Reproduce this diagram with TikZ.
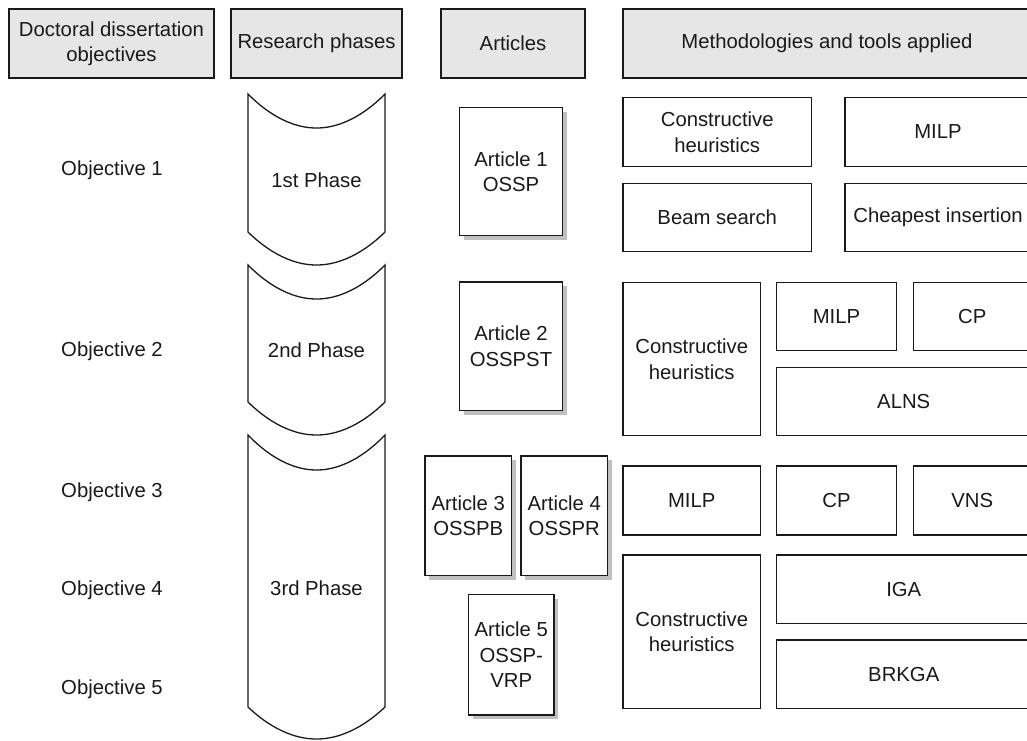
\documentclass[tikz,border=0pt]{standalone}
\usepackage{fontspec}
\setmainfont{Liberation Sans}
\usetikzlibrary{shadows}
\definecolor{hdr}{RGB}{230,230,230}
\definecolor{ink}{RGB}{26,26,26}
\definecolor{shd}{RGB}{192,192,192}
\newcommand\rbox[7]{\node[#1, minimum width={(#5-#3)*1pt}, minimum height={(#6-#4)*1pt}] (#2) at ({(#3+#5)/2},{(#4+#6)/2}) {#7};}
\begin{document}
\begin{tikzpicture}[x=1pt,y=-1pt,
  every node/.style={font=\fontsize{20.3}{25.5}\selectfont, text=ink, inner sep=0pt, outer sep=0pt, align=center},
  plainbox/.style={draw=ink, line width=1.3pt, fill=white},
  hdrbox/.style={plainbox, fill=hdr},
  artbox/.style={plainbox, general shadow={fill=shd, shadow xshift=4pt, shadow yshift=-4pt}},
  phase/.style={draw=ink, line width=1.3pt, fill=white},
  lbl/.style={}]
\clip (0,0) rectangle (1027,740);
\fill[white] (0,0) rectangle (1027,740);
% headers
\rbox{hdrbox}{h1}{9}{9}{214}{78}{Doctoral dissertation\\objectives}
\rbox{hdrbox}{h2}{231}{9}{402}{78}{Research phases}
\rbox{hdrbox}{h3}{441}{9}{585}{78}{Articles}
\rbox{hdrbox}{h4}{623}{9}{1031}{78}{Methodologies and tools applied}
% objectives
\node[lbl] (o1) at (112,170) {Objective 1};
\node[lbl] (o2) at (112,351) {Objective 2};
\node[lbl] (o3) at (112,492) {Objective 3};
\node[lbl] (o4) at (112,590) {Objective 4};
\node[lbl] (o5) at (112,689) {Objective 5};
% phases
\draw[phase] (248,94) parabola bend (316.5,128) (385,94) -- (385,232) parabola bend (316.5,265) (248,232) -- cycle;
\node (p1) at (316.5,180) {1st Phase};
\draw[phase] (248,265) parabola bend (316.5,299) (385,265) -- (385,402) parabola bend (316.5,435) (248,402) -- cycle;
\node (p2) at (316.5,350) {2nd Phase};
\draw[phase] (248,435) parabola bend (316.5,470) (385,435) -- (385,707) parabola bend (316.5,739) (248,707) -- cycle;
\node (p3) at (316.5,588) {3rd Phase};
% articles
\rbox{artbox}{a1}{459.5}{107.5}{562.5}{235.5}{Article 1\\OSSP}
\rbox{artbox}{a2}{459.5}{282}{562.5}{410.5}{Article 2\\OSSPST}
\rbox{artbox}{a3}{425}{456}{511.5}{575.5}{Article 3\\OSSPB}
\rbox{artbox}{a4}{521}{456}{607.5}{575.5}{Article 4\\OSSPR}
\rbox{artbox}{a5}{468.5}{594.5}{554}{715}{Article 5\\OSSP-\\VRP}
% methods row 1
\rbox{plainbox}{m1}{623}{97.5}{811.5}{166.5}{Constructive\\heuristics}
\rbox{plainbox}{m2}{845}{97.5}{1031}{166.5}{MILP}
\rbox{plainbox}{m3}{623}{183.5}{811.5}{251.5}{Beam search}
\rbox{plainbox}{m4}{845}{183.5}{1031}{251.5}{Cheapest insertion}
% methods row 2
\rbox{plainbox}{m5}{623}{282.5}{760.5}{435.5}{Constructive\\heuristics}
\rbox{plainbox}{m6}{776.5}{282.5}{896.5}{350.5}{MILP}
\rbox{plainbox}{m7}{913.5}{282.5}{1031}{350.5}{CP}
\rbox{plainbox}{m8}{776.5}{367.5}{1031}{435.5}{ALNS}
% methods row 3
\rbox{plainbox}{m9}{623}{466}{760.5}{535}{MILP}
\rbox{plainbox}{m10}{776.5}{466}{896.5}{535}{CP}
\rbox{plainbox}{m11}{913.5}{466}{1031}{535}{VNS}
\rbox{plainbox}{m12}{623}{555}{760.5}{708.5}{Constructive\\heuristics}
\rbox{plainbox}{m13}{776.5}{555}{1031}{623.5}{IGA}
\rbox{plainbox}{m14}{776.5}{640}{1031}{708.5}{BRKGA}
\end{tikzpicture}
\end{document}
